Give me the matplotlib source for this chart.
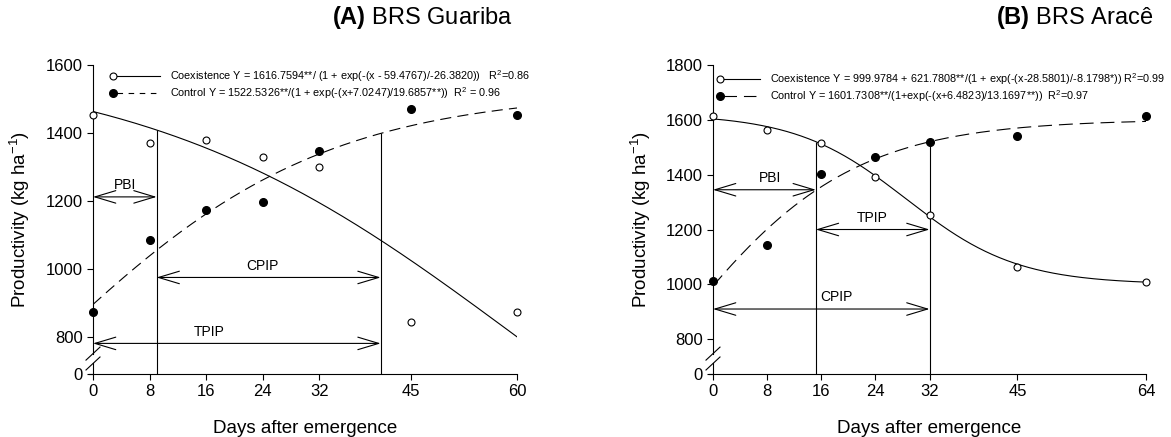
import numpy as np
import matplotlib.pyplot as plt

plt.rcParams['font.family'] = ['Liberation Sans', 'DejaVu Sans']
plt.rcParams['mathtext.fontset'] = 'custom'
plt.rcParams['mathtext.rm'] = 'Liberation Sans'
plt.rcParams['mathtext.bf'] = 'Liberation Sans:bold'
plt.rcParams['lines.scale_dashes'] = False

# panel A - BRS Guariba
days_a = [0, 8, 16, 24, 32, 45, 60]
coex_a = [1452, 1372, 1378, 1328, 1300, 843, 873]
ctrl_a = [872, 1085, 1173, 1196, 1348, 1470, 1452]
coex_fit_a = [1616.7594, 59.4767, -26.3820]      # a, x0, b
ctrl_fit_a = [1522.5326, -7.0247, 19.6857]
yticks_a = [800, 1000, 1200, 1400, 1600]
ylow_a = 691
pbi_a = 9.0
end_a = 40.7
arrow_y_a = {'PBI': 1212, 'CPIP': 975, 'TPIP': 781}
label_x_a = {'PBI': 4.5, 'CPIP': 24, 'TPIP': 16.5}

# panel B - BRS Aracê
days_b = [0, 8, 16, 24, 32, 45, 64]
coex_b = [1615, 1562, 1515, 1390, 1254, 1064, 1010]
ctrl_b = [1012, 1145, 1403, 1463, 1520, 1540, 1615]
coex_fit_b = [999.9784, 621.7808, 28.5801, -8.1798]   # y0, a, x0, b
ctrl_fit_b = [1601.7308, -6.4823, 13.1697]
yticks_b = [800, 1000, 1200, 1400, 1600, 1800]
ylow_b = 673
pbi_b = 15.2
end_b = 32.0
arrow_y_b = {'PBI': 1345, 'TPIP': 1200, 'CPIP': 910}
label_x_b = {'PBI': 8.4, 'TPIP': 23.5, 'CPIP': 18.3}

W, H = 1171, 437


def logistic(x, a, x0, b, y0=0.0):
    return y0 + a / (1 + np.exp(-(x - x0) / b))


def broken_y(ax, low, ticks):
    ax.set_ylim(low, ticks[-1])
    ax.set_yticks([low] + ticks)
    ax.set_yticklabels(['0'] + [str(t) for t in ticks])
    ax.spines['left'].set_visible(False)
    pos = ax.get_position()
    dx = 7 / (pos.width * W)
    dy = 6.5 / (pos.height * H)
    tr = ax.transAxes
    kw = dict(transform=tr, color='k', lw=0.8, clip_on=False)
    ax.plot([0, 0], [0.066, 1], **kw)
    ax.plot([0, 0], [0, 0.034], **kw)
    ax.plot([-4 / (pos.width * W), 0], [0, 0], **kw)
    for yc in (0.066, 0.034):
        ax.plot([-dx, dx], [yc - dy, yc + dy], **kw)


def arrow(ax, x1, x2, y, text, tx):
    ax.annotate('', xy=(x2, y), xytext=(x1, y),
                arrowprops=dict(arrowstyle='<->,head_length=1.5,head_width=0.45',
                                color='k', lw=0.8, shrinkA=0, shrinkB=0,
                                mutation_scale=10))
    ax.annotate(text, (tx, y), xytext=(0, 3.5), textcoords='offset points',
                ha='center', va='bottom', fontsize=10)


def legend(ax, x0, x1, xt, y1, y2, txt1, txt2, dashes):
    tr = ax.transAxes
    ax.plot([x0], [y1], 'o', mfc='white', mec='k', ms=5, mew=0.8, transform=tr, clip_on=False)
    ax.plot([x0 + 0.01, x1], [y1, y1], color='k', lw=0.8, transform=tr)
    ax.text(xt, y1, txt1, transform=tr, fontsize=7.8, va='center')
    ax.plot([x0], [y2], 'o', color='k', ms=5.5, transform=tr, clip_on=False)
    ax.plot([x0 + 0.01, x1], [y2, y2], color='k', lw=0.8, dashes=dashes, transform=tr)
    ax.text(xt, y2, txt2, transform=tr, fontsize=7.8, va='center')


def style(ax, days):
    ax.spines['top'].set_visible(False)
    ax.spines['right'].set_visible(False)
    ax.spines['bottom'].set_linewidth(0.8)
    ax.set_xlim(days[0], days[-1])
    ax.set_xticks(days)
    ax.tick_params(direction='out', length=4, width=0.8, labelsize=12)
    ax.set_xlabel('Days after emergence', fontsize=13.5)
    ax.set_ylabel('Productivity (kg ha$^{-1}$)', fontsize=13.5)
    ax.xaxis.set_label_coords(0.5, -0.148)


fig = plt.figure(figsize=(W / 100, H / 100), dpi=100)
ax1 = fig.add_axes([93 / W, 1 - 374 / H, 424 / W, 309 / H])
ax2 = fig.add_axes([713 / W, 1 - 374 / H, 433 / W, 309 / H])

# ---- A
xs = np.linspace(days_a[0], days_a[-1], 300)
ax1.plot(xs, logistic(xs, *coex_fit_a), color='k', lw=0.8)
ax1.plot(xs, logistic(xs, *ctrl_fit_a), color='k', lw=0.8, dashes=(8, 4.5))
ax1.plot(days_a, coex_a, 'o', mfc='white', mec='k', ms=5, mew=0.8, clip_on=False, zorder=5)
ax1.plot(days_a, ctrl_a, 'o', color='k', ms=5.5, clip_on=False, zorder=5)
ax1.vlines(pbi_a, ylow_a, logistic(pbi_a, *coex_fit_a), color='k', lw=0.8)
ax1.vlines(end_a, ylow_a, logistic(end_a, *ctrl_fit_a), color='k', lw=0.8)
arrow(ax1, 0, pbi_a, arrow_y_a['PBI'], 'PBI', label_x_a['PBI'])
arrow(ax1, pbi_a, end_a, arrow_y_a['CPIP'], 'CPIP', label_x_a['CPIP'])
arrow(ax1, 0, end_a, arrow_y_a['TPIP'], 'TPIP', label_x_a['TPIP'])
style(ax1, days_a)
broken_y(ax1, ylow_a, yticks_a)
ax1.yaxis.set_label_coords(-0.144, 0.5)
legend(ax1, 0.047, 0.158, 0.182, 0.964, 0.909,
       'Coexistence Y = 1616.7594**/ (1 + exp(-(x - 59.4767)/-26.3820))   R$^2$=0.86',
       'Control Y = 1522.5326**/(1 + exp(-(x+7.0247)/19.6857**))  R$^2$ = 0.96', (4, 4))
ax1.text(0.99, 1.155, r'$\bf{(A)}$ BRS Guariba', transform=ax1.transAxes,
         ha='right', va='center', fontsize=17)

# ---- B
xs = np.linspace(days_b[0], days_b[-1], 300)
y0, a, x0, b = coex_fit_b
ax2.plot(xs, logistic(xs, a, x0, b, y0), color='k', lw=0.8)
ax2.plot(xs, logistic(xs, *ctrl_fit_b), color='k', lw=0.8, dashes=(10, 5))
ax2.plot(days_b, coex_b, 'o', mfc='white', mec='k', ms=5, mew=0.8, clip_on=False, zorder=5)
ax2.plot(days_b, ctrl_b, 'o', color='k', ms=5.5, clip_on=False, zorder=5)
ax2.vlines(pbi_b, ylow_b, logistic(pbi_b, a, x0, b, y0), color='k', lw=0.8)
ax2.vlines(end_b, ylow_b, logistic(end_b, *ctrl_fit_b), color='k', lw=0.8)
arrow(ax2, 0, pbi_b, arrow_y_b['PBI'], 'PBI', label_x_b['PBI'])
arrow(ax2, pbi_b, end_b, arrow_y_b['TPIP'], 'TPIP', label_x_b['TPIP'])
arrow(ax2, 0, end_b, arrow_y_b['CPIP'], 'CPIP', label_x_b['CPIP'])
style(ax2, days_b)
broken_y(ax2, ylow_b, yticks_b)
ax2.yaxis.set_label_coords(-0.139, 0.5)
legend(ax2, 0.016, 0.109, 0.132, 0.955, 0.90,
       'Coexistence Y = 999.9784 + 621.7808**/(1 + exp(-(x-28.5801)/-8.1798*)) R$^2$=0.99',
       'Control Y = 1601.7308**/(1+exp(-(x+6.4823)/13.1697**))  R$^2$=0.97', (9, 5))
ax2.text(1.016, 1.155, r'$\bf{(B)}$ BRS Aracê', transform=ax2.transAxes,
         ha='right', va='center', fontsize=17)

fig.savefig('out.png', dpi=100)
